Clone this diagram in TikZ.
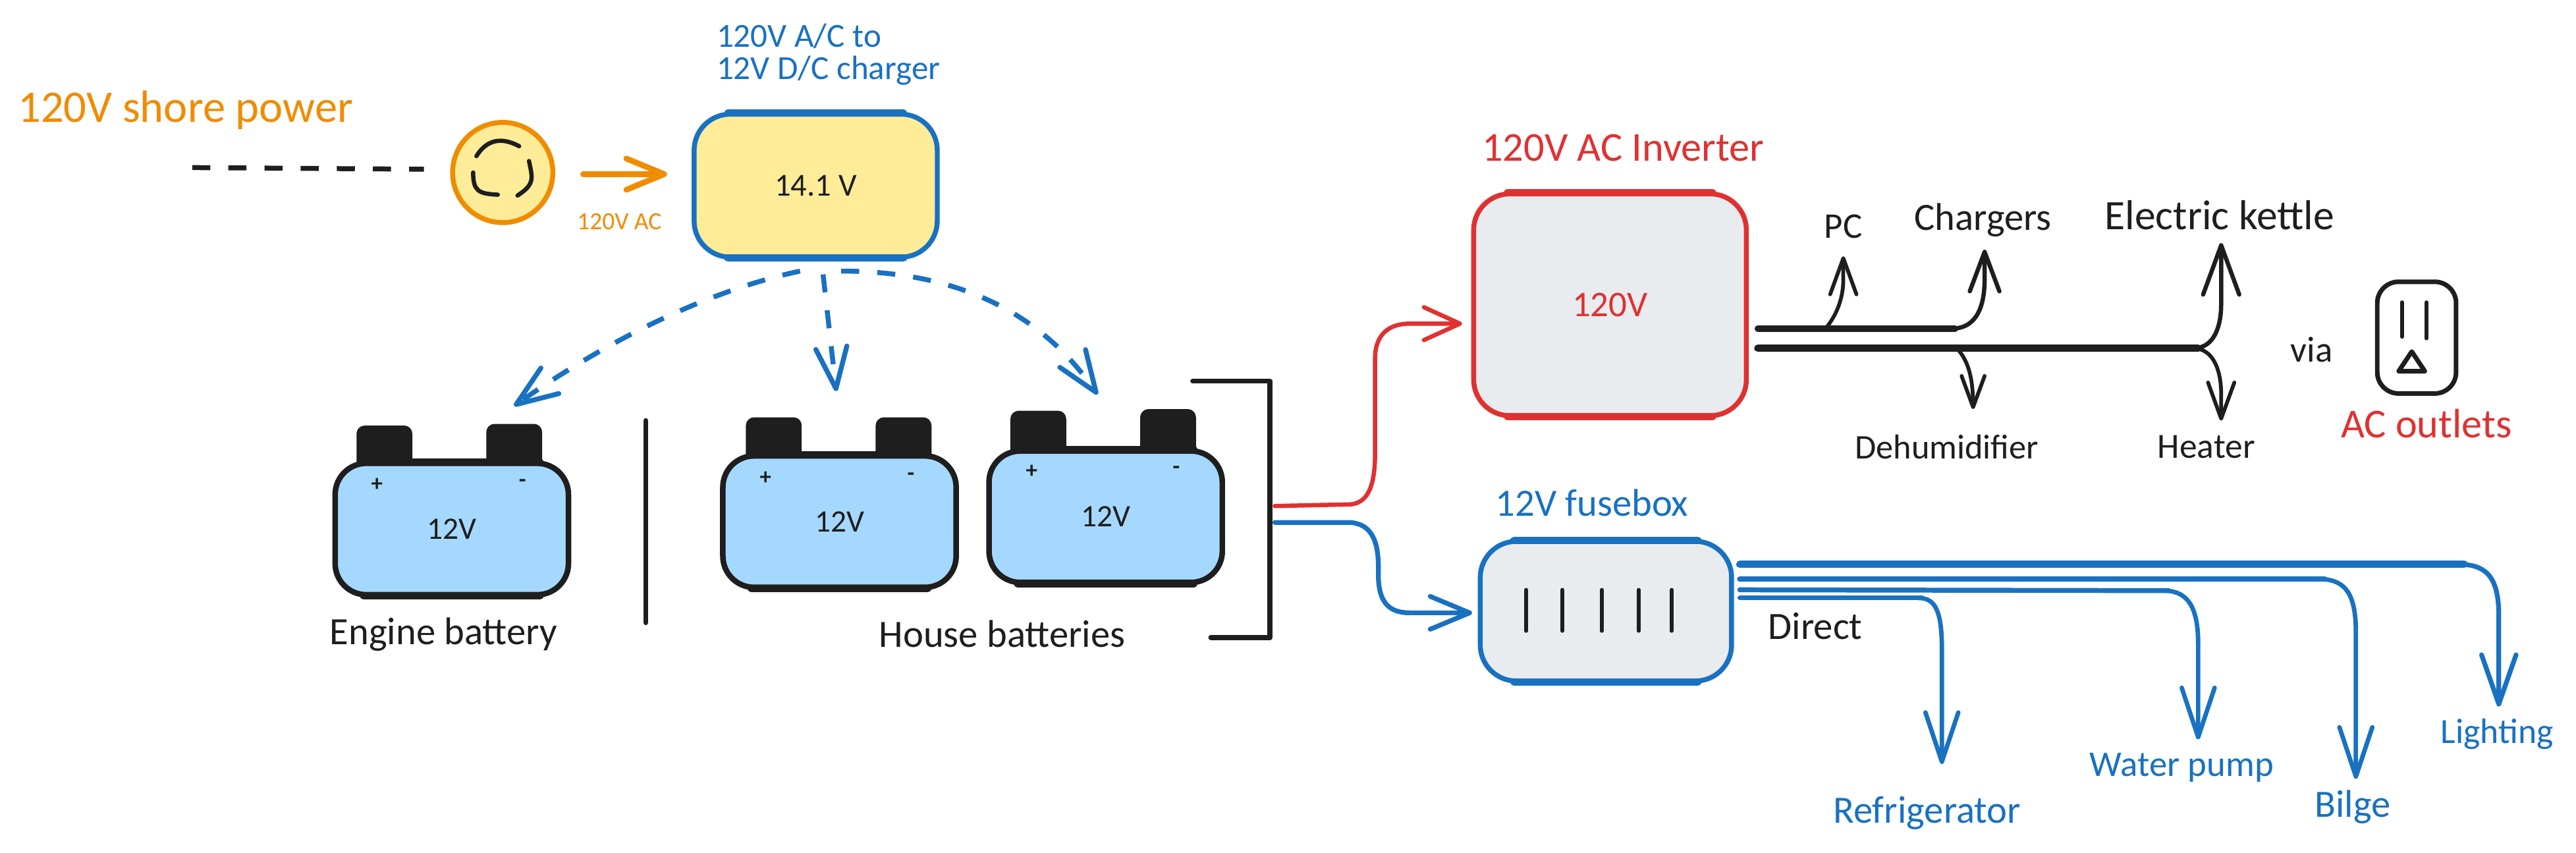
\documentclass[tikz,border=0pt]{standalone}
\usepackage{fontspec}
\setmainfont{Carlito}
\usetikzlibrary{arrows.meta}
\definecolor{inkc}{HTML}{1E1E1E}
\definecolor{bluec}{HTML}{1971C2}
\definecolor{redc}{HTML}{E03131}
\definecolor{orangec}{HTML}{F08C00}
\definecolor{yellowf}{HTML}{FFEC99}
\definecolor{bluef}{HTML}{A5D8FF}
\definecolor{grayf}{HTML}{E9ECEF}
\tikzset{
  wire/.style={line cap=round,line join=round,line width=2.3pt},
  ahead/.style 2 args={-{Straight Barb[round,length=#1pt,width=#2pt]}},
  dashline/.style={wire,line width=3pt,dash pattern=on 11pt off 11pt,line cap=butt},
  box/.style={draw,line width=3pt,rounded corners=22pt,inner sep=0pt},
  batbody/.style={draw=inkc,fill=bluef,line width=3.4pt,rounded corners=19pt,inner sep=0pt,minimum width=142pt,minimum height=80pt},
  post/.style={fill=inkc,rounded corners=5pt,inner sep=0pt,minimum width=34pt,minimum height=28pt},
  fs/.style={font=\fontsize{#1}{#1}\selectfont},
  sign/.style={font=\bfseries\fontsize{14}{14}\selectfont,text=inkc,inner sep=0pt},
  lab/.style={fs=23.5,inner sep=0pt,text=inkc},
  blab/.style={lab,text=bluec},
  rlab/.style={lab,text=redc},
}
\begin{document}
\begin{tikzpicture}[x=1pt,y=-1pt]
\path[use as bounding box,fill=white] (0,0) rectangle (1568,519);
% shore power
\node[fs=27.5,text=orangec,inner sep=0pt] (shorelab) at (113,67) {120V shore power};
\coordinate (shoreS) at (117,102);
\node[circle,draw=orangec,fill=yellowf,line width=3pt,minimum size=61pt,inner sep=0pt] (socket) at (306,105) {};
\coordinate (shoreE) at (258,103);
\draw[dashline,inkc] (shoreS) -- (shoreE);
\draw[wire,line width=2.6pt,inkc] (290,95) .. controls (295,87) and (303,82) .. (316,89);
\draw[wire,line width=2.6pt,inkc] (322,98) .. controls (324,108) and (326,112) .. (315,119);
\draw[wire,line width=2.6pt,inkc] (288,105) .. controls (288,116) and (291,118) .. (303,118.5);
% charger
\node[box,draw=bluec,fill=yellowf,minimum width=148pt,minimum height=87pt,fs=19.5,text=inkc] (charger) at (496.5,113) {14.1 V};
\node[blab,fs=20.5,anchor=west] (chglab1) at (436,22) {120V A/C to};
\node[blab,fs=20.5,anchor=west] (chglab2) at (436,43) {12V D/C charger};
\coordinate (acS) at (355,106);
\coordinate (acE) at (406,106);
\draw[wire,line width=3.5pt,orangec,ahead={23}{19}] (acS) -- (acE);
\node[fs=15,text=orangec,inner sep=0pt] (aclab) at (377,135) {120V AC};
% batteries
\node[post] (e1) at (234,273) {};
\node[post] (e2) at (313,272) {};
\node[batbody] (eng) at (275,322) {};
\node[post] (h1) at (471,268) {};
\node[post] (h2) at (550,268) {};
\node[batbody] (h) at (511,317.5) {};
\node[post] (i1) at (632,264) {};
\node[post] (i2) at (711,263) {};
\node[batbody] (i) at (673,314.5) {};
\node[fs=19,text=inkc,inner sep=0pt] (eng12) at (eng) {12V};
\node[fs=19,text=inkc,inner sep=0pt] (h12) at (h) {12V};
\node[fs=19,text=inkc,inner sep=0pt] (i12) at (i) {12V};
\node[sign] (ep) at (229.5,295) {+};
\node[sign] (em) at (318,294) {-};
\node[sign] (hp) at (466,291) {+};
\node[sign] (hm) at (554.5,290) {-};
\node[sign] (ip) at (628,287) {+};
\node[sign] (im) at (716,286) {-};
\node[lab] (englab) at (270,386) {Engine battery};
\node[lab] (houselab) at (610,386) {House batteries};
\coordinate (sepT) at (393,256);
\coordinate (sepB) at (393,379);
\draw[wire,inkc,line width=3pt] (sepT) -- (sepB);
\coordinate (brA) at (726,232);
\coordinate (brB) at (737,388);
\draw[wire,inkc,line width=3pt] (brA) -- (773,232) -- (773,388) -- (brB);
% dashed charger links
\coordinate (d1S) at (487,165); \coordinate (d1T) at (313,247);
\coordinate (d2S) at (501,167); \coordinate (d2T) at (509,238);
\coordinate (d3S) at (512,165); \coordinate (d3T) at (668,240);
\draw[dashline,bluec,ahead={25}{19}] (d1S) .. controls (440,175) and (380,200) .. (d1T);
\draw[dashline,bluec,ahead={25}{19}] (d2S) -- (d2T);
\draw[dashline,bluec,ahead={25}{19}] (d3S) .. controls (575,165) and (630,185) .. (d3T);
% inverter
\node[box,draw=redc,fill=grayf,minimum width=166pt,minimum height=135pt,fs=22,text=redc] (inv) at (980,185.5) {120V};
\node[rlab,fs=25] (invlab) at (988,90) {120V AC Inverter};
\coordinate (rS) at (776,308);
\coordinate (rT) at (890,197);
\draw[wire,redc,line width=2.6pt,ahead={22}{20}] (rS) -- (822,307) .. controls (834,306) and (837,293) .. (837,275) -- (837,218) .. controls (837,204) and (845,197) .. (858,197) -- (rT);
% AC outputs
\coordinate (upS) at (1070,200);
\coordinate (loS) at (1070,212);
\coordinate (pcT) at (1122,156);
\coordinate (chT) at (1208,152);
\coordinate (keT) at (1352,148);
\coordinate (heT) at (1352,256);
\coordinate (deT) at (1201,249);
\draw[wire,inkc,line width=4pt] (upS) -- (1190,200);
\draw[wire,inkc,line width=4.5pt] (loS) -- (1338,212);
\draw[wire,inkc,ahead={22}{16}] (1112,199) .. controls (1119,190) and (1122,180) .. (1122,170) -- (pcT);
\draw[wire,inkc,line width=2.6pt,ahead={24}{18}] (1188,200) .. controls (1204,200) and (1208,185) .. (1208,170) -- (chT);
\draw[wire,inkc,line width=2.6pt,ahead={30}{22}] (1335,212) .. controls (1347,212) and (1352,200) .. (1352,185) -- (keT);
\draw[wire,inkc,ahead={22}{16}] (1335,212) .. controls (1347,212) and (1352,225) .. (1352,240) -- (heT);
\draw[wire,inkc,ahead={19}{14}] (1192,213) .. controls (1198,220) and (1201,230) .. (deT);
\node[lab,fs=22] (pcl) at (1122,138) {PC};
\node[lab] (chl) at (1207,134) {Chargers};
\node[lab,fs=25.5] (kel) at (1351,131) {Electric kettle};
\node[lab,fs=21] (del) at (1185,272) {Dehumidifier};
\node[lab,fs=21.5] (hel) at (1343,272) {Heater};
\node[lab,fs=22] (via) at (1407,213) {via};
\node[rlab,fs=25] (outl) at (1477,258) {AC outlets};
\node[draw=inkc,line width=2.8pt,rounded corners=13pt,minimum width=48pt,minimum height=68pt,inner sep=0pt] (outlet) at (1471,205.5) {};
\draw[wire,inkc] (1462,184) -- (1462,205);
\draw[wire,inkc] (1477,184) -- (1477,206);
\draw[wire,inkc,line width=2.8pt,line join=round] (1468,214) -- (1460,226) -- (1476,226) -- cycle;
% fusebox
\node[box,draw=bluec,fill=grayf,minimum width=153pt,minimum height=85pt] (fuse) at (977.5,372) {};
\node[blab] (fuselab) at (969,306) {12V fusebox};
\foreach \fx in {929,951,975,997.5,1017.5}
  \draw[wire,inkc] (\fx,359) -- (\fx,384);
\coordinate (bS) at (776,318);
\coordinate (bT) at (896,373);
\draw[wire,bluec,line width=2.9pt,ahead={24}{20}] (bS) -- (822,318) .. controls (834,319) and (839,328) .. (839,345) -- (839,350) .. controls (839,366) and (845,373) .. (858,373) -- (bT);
% heavier top and bottom strokes of the boxes
\foreach \b/\c/\r in {charger/bluec/22,inv/redc/22,fuse/bluec/22,eng/inkc/19,h/inkc/19,i/inkc/19} {
  \draw[\c,line width=4.4pt,line cap=round] ([xshift=\r pt,yshift=-0.9pt]\b.north west) -- ([xshift=-\r pt,yshift=-0.9pt]\b.north east);
  \draw[\c,line width=4.4pt,line cap=round] ([xshift=\r pt,yshift=0.9pt]\b.south west) -- ([xshift=-\r pt,yshift=0.9pt]\b.south east);
}
% DC outputs
\coordinate (o1) at (1059,343.5); \coordinate (o2) at (1059,352.5);
\coordinate (o3) at (1059,359); \coordinate (o4) at (1059,364);
\coordinate (t1) at (1521,430); \coordinate (t2) at (1434,474);
\coordinate (t3) at (1338,450); \coordinate (t4) at (1182,465);
\draw[wire,bluec,line width=4.4pt] (o1) -- (1500,343.5);
\draw[wire,bluec,line width=3.4pt] (o2) -- (1415,352.5);
\draw[wire,bluec,line width=3pt] (o3) -- (1320,359.5);
\draw[wire,bluec,line width=2.8pt] (o4) -- (1170,364);
\draw[wire,bluec,line width=2.9pt,ahead={30}{21}] (1498,343.5) .. controls (1514,344) and (1521,352) .. (1521,375) -- (t1);
\draw[wire,bluec,line width=2.7pt,ahead={30}{20}] (1413,352.5) .. controls (1428,353) and (1434,362) .. (1434,385) -- (t2);
\draw[wire,bluec,line width=2.7pt,ahead={30}{20}] (1318,359.5) .. controls (1332,360) and (1338,370) .. (1338,392) -- (t3);
\draw[wire,bluec,line width=2.7pt,ahead={30}{20}] (1168,364) .. controls (1178,364) and (1182,372) .. (1182,395) -- (t4);
\node[lab] (dirl) at (1105,381) {Direct};
\node[blab] (refl) at (1173,495) {Refrigerator};
\node[blab,fs=22] (watl) at (1328,467) {Water pump};
\node[blab] (bill) at (1432,491) {Bilge};
\node[blab,fs=21.5] (ligl) at (1520,447) {Lighting};
\end{tikzpicture}
\end{document}
